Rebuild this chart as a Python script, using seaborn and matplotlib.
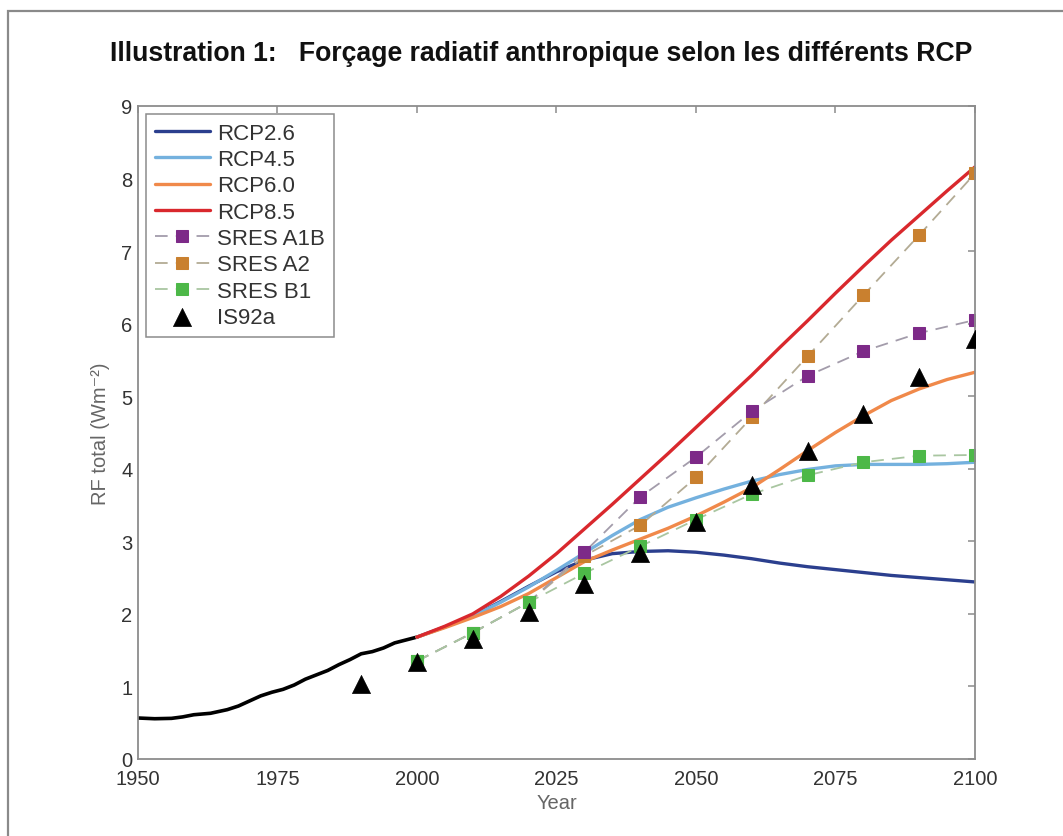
import matplotlib
matplotlib.use("Agg")
import matplotlib.pyplot as plt
import seaborn as sns
import numpy as np
import pandas as pd
from matplotlib.patches import Rectangle

# ---------------- data ----------------
hist_years = [1950, 1953, 1956, 1958, 1960, 1963, 1966, 1968, 1970, 1972, 1974, 1976,
              1978, 1980, 1982, 1984, 1986, 1988, 1990, 1992, 1994, 1996, 1998, 2000]
hist_rf = [0.565, 0.555, 0.56, 0.58, 0.61, 0.63, 0.68, 0.73, 0.80, 0.87, 0.92, 0.96,
           1.02, 1.10, 1.16, 1.22, 1.30, 1.37, 1.45, 1.48, 1.53, 1.60, 1.64, 1.68]

rcp_years = [2000, 2005, 2010, 2015, 2020, 2025, 2030, 2035, 2040, 2045, 2050,
             2055, 2060, 2065, 2070, 2075, 2080, 2085, 2090, 2095, 2100]
rcp26 = [1.68, 1.82, 1.97, 2.17, 2.38, 2.58, 2.74, 2.83, 2.86, 2.87, 2.85,
         2.81, 2.76, 2.70, 2.65, 2.61, 2.57, 2.53, 2.50, 2.47, 2.44]
rcp45 = [1.68, 1.82, 1.97, 2.16, 2.37, 2.60, 2.84, 3.08, 3.30, 3.47, 3.60,
         3.72, 3.83, 3.92, 3.99, 4.04, 4.06, 4.06, 4.06, 4.07, 4.09]
rcp60 = [1.68, 1.81, 1.95, 2.10, 2.28, 2.50, 2.72, 2.88, 3.03, 3.18, 3.35,
         3.54, 3.74, 3.99, 4.25, 4.50, 4.73, 4.94, 5.10, 5.23, 5.33]
rcp85 = [1.68, 1.83, 2.00, 2.24, 2.52, 2.83, 3.17, 3.51, 3.86, 4.21, 4.57,
         4.93, 5.29, 5.67, 6.04, 6.42, 6.79, 7.15, 7.49, 7.83, 8.16]

sres_years = [2000, 2010, 2020, 2030, 2040, 2050, 2060, 2070, 2080, 2090, 2100]
sres_a1b = [1.35, 1.74, 2.16, 2.85, 3.61, 4.16, 4.79, 5.28, 5.62, 5.87, 6.05]
sres_a2 = [1.35, 1.74, 2.16, 2.80, 3.22, 3.88, 4.71, 5.55, 6.39, 7.22, 8.07]
sres_b1 = [1.35, 1.74, 2.16, 2.56, 2.93, 3.30, 3.65, 3.91, 4.09, 4.18, 4.19]

is92_years = [1990, 2000, 2010, 2020, 2030, 2040, 2050, 2060, 2070, 2080, 2090, 2100]
is92a = [1.04, 1.34, 1.65, 2.02, 2.41, 2.84, 3.27, 3.78, 4.25, 4.76, 5.27, 5.79]

x_ticks = [1950, 1975, 2000, 2025, 2050, 2075, 2100]
y_ticks = [0, 1, 2, 3, 4, 5, 6, 7, 8, 9]

title = "Illustration 1:   Forçage radiatif anthropique selon les différents RCP"

# ---------------- style ----------------
sns.set_style("white")
plt.rcParams['font.family'] = ['Liberation Sans', 'DejaVu Sans']

fig = plt.figure(figsize=(10.63, 8.37), dpi=100)
ax = fig.add_axes([0.1298, 0.092, 0.9172 - 0.1298, 0.8722 - 0.092])

# outer frame
fig.patches.append(Rectangle((8 / 1063, -0.05), 1.2, 1 - 12 / 837 + 0.05,
                             transform=fig.transFigure, fill=False,
                             edgecolor="#8a8a8a", linewidth=1.6, zorder=0))

fs = 14.5
fs_leg = 16
c26, c45, c60, c85 = "#2b3f8e", "#74b1de", "#f0894a", "#d9282d"
ca1b, ca2, cb1 = "#7d2a88", "#c9802f", "#4db848"
da1b, da2, db1 = "#a39cab", "#b3ab94", "#a9c6a1"

sns.lineplot(x=hist_years, y=hist_rf, ax=ax, color="black", lw=2.6, label="_nolegend_")

h26 = sns.lineplot(x=rcp_years, y=rcp26, ax=ax, color=c26, lw=2.4, label="RCP2.6").lines[-1]
h45 = sns.lineplot(x=rcp_years, y=rcp45, ax=ax, color=c45, lw=2.4, label="RCP4.5").lines[-1]
h60 = sns.lineplot(x=rcp_years, y=rcp60, ax=ax, color=c60, lw=2.4, label="RCP6.0").lines[-1]
h85 = sns.lineplot(x=rcp_years, y=rcp85, ax=ax, color=c85, lw=2.4, label="RCP8.5").lines[-1]

dash = (0, (7, 4.5))
ha2 = sns.lineplot(x=sres_years, y=sres_a2, ax=ax, color=da2, lw=1.3, linestyle=dash,
                   marker="s", markersize=8.5, markerfacecolor=ca2, markeredgecolor=ca2,
                   label="SRES A2").lines[-1]
ha1b = sns.lineplot(x=sres_years, y=sres_a1b, ax=ax, color=da1b, lw=1.3, linestyle=dash,
                    marker="s", markersize=8.5, markerfacecolor=ca1b, markeredgecolor=ca1b,
                    label="SRES A1B").lines[-1]
hb1 = sns.lineplot(x=sres_years, y=sres_b1, ax=ax, color=db1, lw=1.3, linestyle=dash,
                   marker="s", markersize=8.5, markerfacecolor=cb1, markeredgecolor=cb1,
                   label="SRES B1").lines[-1]

sns.scatterplot(x=is92_years, y=is92a, ax=ax, marker="^", s=170, color="black",
                edgecolor="black", linewidth=0.5, label="IS92a", zorder=5)
his = ax.collections[-1]

ax.set_xlim(1950, 2100)
ax.set_ylim(0, 9)
ax.set_xticks(x_ticks)
ax.set_yticks(y_ticks)

for sp in ax.spines.values():
    sp.set_color("#8c8c8c")
    sp.set_linewidth(1.3)
    sp.set_visible(True)

ax.tick_params(direction="in", length=5, width=1.1, color="#8c8c8c",
               top=True, right=True, labelsize=fs, labelcolor="#333333")
ax.tick_params(axis="x", pad=7)
ax.tick_params(axis="y", pad=4)

ax.set_xlabel("Year", fontsize=fs, color="#666666", labelpad=4)
ax.set_ylabel("RF total (Wm⁻²)", fontsize=fs, color="#666666", labelpad=8)

leg = ax.legend([h26, h45, h60, h85, ha1b, ha2, hb1, his],
                ["RCP2.6", "RCP4.5", "RCP6.0", "RCP8.5", "SRES A1B", "SRES A2", "SRES B1", "IS92a"],
                loc="upper left", fontsize=fs_leg, frameon=True, fancybox=False,
                edgecolor="#8c8c8c", framealpha=1, borderaxespad=0.35,
                handlelength=2.5, handletextpad=0.32, labelspacing=0.24,
                borderpad=0.4, numpoints=1, scatterpoints=1)
leg.get_frame().set_linewidth(1.1)
for t in leg.get_texts():
    t.set_color("#333333")

fig.text(0.509, 0.936, title, ha="center", va="center", fontsize=19.2,
         fontweight="bold", family=["Liberation Sans", "DejaVu Sans"],
         color="#111111")

fig.savefig("out.png", dpi=100, facecolor="white")
